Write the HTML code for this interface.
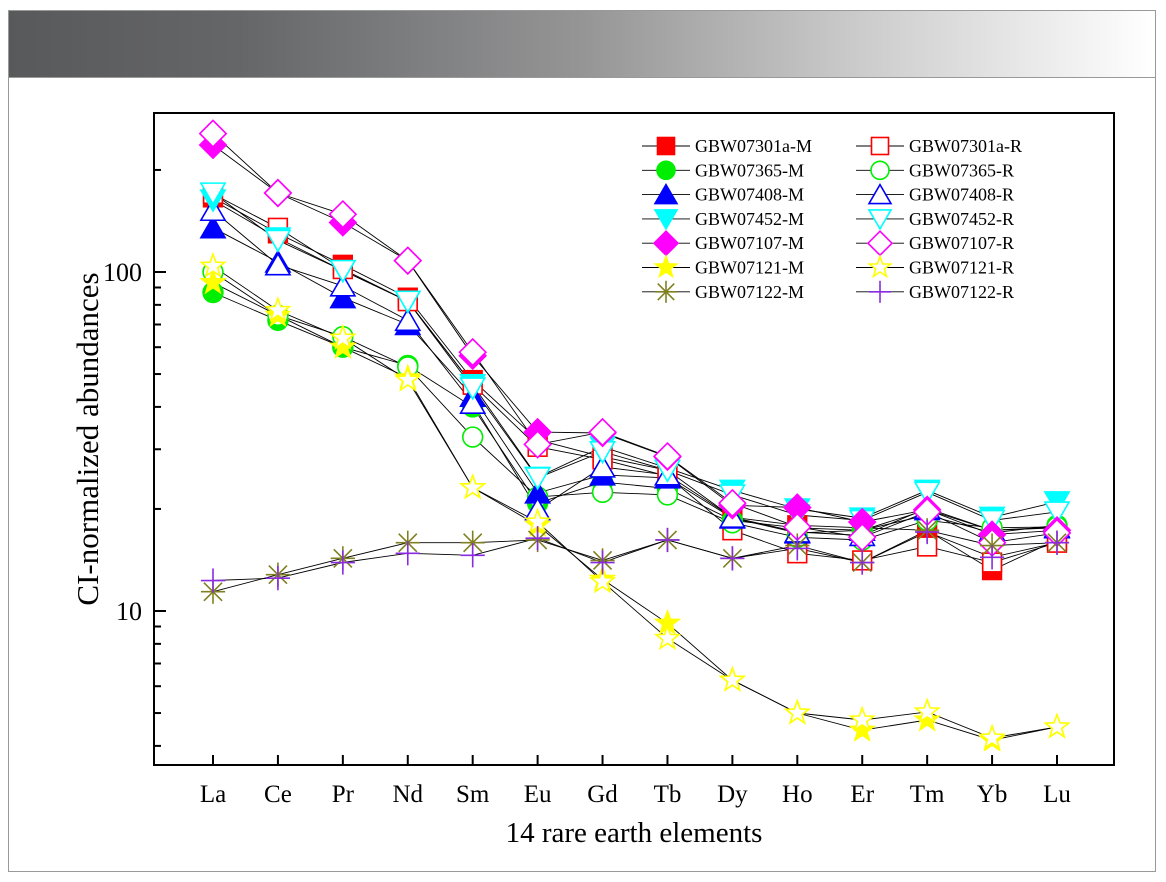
<!DOCTYPE html>
<html><head><meta charset="utf-8">
<style>
html,body{margin:0;padding:0;background:#fff;}
body{width:1166px;height:882px;overflow:hidden;position:relative;font-family:"Liberation Serif",serif;}
#frame{position:absolute;left:8px;top:10px;width:1148px;height:862px;border:1px solid #999;box-sizing:border-box;}
#header{position:absolute;left:9px;top:11px;width:1146px;height:66px;background:linear-gradient(to right,#58595b 0%,#656668 20%,#959596 50%,#cdcdcd 75%,#fff 100%);border-bottom:1px solid #999;}
svg{position:absolute;left:0;top:0;}
svg text{font-family:"Liberation Serif",serif;}
</style></head>
<body>
<div id="frame"></div>
<div id="header"></div>
<svg id="chart" width="1166" height="882" font-family="Liberation Serif, serif"></svg>
<script>
const categories=["La","Ce","Pr","Nd","Sm","Eu","Gd","Tb","Dy","Ho","Er","Tm","Yb","Lu"];
const yTickLabels=["10","100"];
const yTickValues=[10,100];
const s301M=[166,130,105,84,48,32,28.5,26,18.9,17.9,17.6,17.3,13.2,16.2];
const s301R=[170,135,102,82,46.5,30.5,28,25,17.3,14.8,14.1,15.5,13.9,15.9];
const s365M=[87,72,60,53,40,20.8,24,23,18.5,17.6,17.3,19.2,17,17.9];
const s365R=[100,74.5,64.5,52.5,32.6,21.7,22.4,22,18.2,16.5,16.2,18.5,17.6,17.7];
const s408M=[135,107,84,70,43,22.3,25.2,24.7,18.8,17,17.3,19.9,17.3,17.7];
const s408R=[152,105,91,72,41,19.9,26.6,25.2,18.9,17.1,16.7,20.1,17.3,17.6];
const s452M=[163,126,101,82,46.5,24.8,30.5,26.4,22.7,20,18.8,22.7,18.9,21];
const s452R=[171,124,101,82,45.5,24.7,29.5,26,22,19.2,18.5,22.4,18.5,19.6];
const s107M=[237,171,140,108,56.6,33.7,33.5,28.5,20.5,20.2,18.3,19.9,16.8,17.3];
const s107R=[256,171,148,108,58,31,33.7,28.6,20.8,17.7,16.5,19.6,15.9,17];
const s121M=[93,74.5,60,48.7,23.1,17.9,12.4,9.2,6.25,5,4.45,4.77,4.16,4.55];
const s121R=[104,77,63.8,48,23.1,18.3,12.2,8.3,6.25,5,4.77,5.04,4.22,4.55];
const s122M=[11.4,12.8,14.3,15.9,15.9,16.2,14.1,16.2,14.3,15.6,13.9,17.3,15.6,15.9];
const s122R=[12.3,12.5,13.9,14.8,14.6,16.4,13.9,16.2,14.3,15.3,13.9,17.1,14.4,15.9];

const series=[
 {name:"GBW07301a-M",data:s301M,m:"square",c:"#ff0000",f:true},
 {name:"GBW07301a-R",data:s301R,m:"square",c:"#ff0000",f:false},
 {name:"GBW07365-M",data:s365M,m:"circle",c:"#00ee00",f:true},
 {name:"GBW07365-R",data:s365R,m:"circle",c:"#00ee00",f:false},
 {name:"GBW07408-M",data:s408M,m:"up",c:"#0000ff",f:true},
 {name:"GBW07408-R",data:s408R,m:"up",c:"#0000ff",f:false},
 {name:"GBW07452-M",data:s452M,m:"down",c:"#00ffff",f:true},
 {name:"GBW07452-R",data:s452R,m:"down",c:"#00ffff",f:false},
 {name:"GBW07107-M",data:s107M,m:"diamond",c:"#ff00ff",f:true},
 {name:"GBW07107-R",data:s107R,m:"diamond",c:"#ff00ff",f:false},
 {name:"GBW07121-M",data:s121M,m:"star",c:"#ffff00",f:true},
 {name:"GBW07121-R",data:s121R,m:"star",c:"#ffff00",f:false},
 {name:"GBW07122-M",data:s122M,m:"asterisk",c:"#808020",f:false},
 {name:"GBW07122-R",data:s122R,m:"plus",c:"#8a2be2",f:false}
];

const L=154,R=1114,T=113,B=765;
const x0=213,dx=(1057-213)/13;
const xs=i=>x0+i*dx;
const ys=v=>611-339*Math.log10(v/10);
const NS="http://www.w3.org/2000/svg";
const svg=document.getElementById('chart');
function mk(tag,attrs,parent){const e=document.createElementNS(NS,tag);for(const k in attrs)e.setAttribute(k,attrs[k]);(parent||svg).appendChild(e);return e;}

const box=mk('rect',{x:L,y:T,width:R-L,height:B-T,fill:'none',stroke:'#000','stroke-width':2});



const yt=mk('g',{});


for(let d=1;d<1000;d*=10){for(let k=1;k<10;k++){const v=d*k;const y=ys(v);if(y<T||y>B)continue;const maj=(k===1);mk('line',{x1:L,x2:L+(maj?12:7),y1:y,y2:y,stroke:'#000','stroke-width':2},yt);}}
yTickValues.forEach((v,i)=>{const t=mk('text',{x:L-12,y:ys(v)+9,'text-anchor':'end','font-size':26,fill:'#000'});t.textContent=yTickLabels[i];

});

categories.forEach((c,i)=>{mk('line',{x1:xs(i),x2:xs(i),y1:B,y2:B-10,stroke:'#000','stroke-width':2});
const t=mk('text',{x:xs(i),y:802,'text-anchor':'middle','font-size':25,fill:'#000'});t.textContent=c;

});

const xt=mk('text',{x:634,y:842,'text-anchor':'middle','font-size':29,fill:'#000'});xt.textContent="14 rare earth elements";


const ytt=mk('text',{x:0,y:0,'text-anchor':'middle','font-size':31,fill:'#000',transform:'translate(98,439) rotate(-90)'});ytt.textContent="CI-normalized abundances";



function marker(type,x,y,c,f,parent,s){
 s=s||11;const fill=f?c:'#fff';const sw=1.6;
 if(type==='square')return mk('rect',{x:x-s*0.85,y:y-s*0.85,width:s*1.7,height:s*1.7,fill:fill,stroke:c,'stroke-width':sw},parent);
 if(type==='circle')return mk('circle',{cx:x,cy:y,r:s*0.9,fill:fill,stroke:c,'stroke-width':sw},parent);
 if(type==='up')return mk('polygon',{points:`${x},${y-s} ${x+s*1.1},${y+s*0.9} ${x-s*1.1},${y+s*0.9}`,fill:fill,stroke:c,'stroke-width':sw},parent);
 if(type==='down')return mk('polygon',{points:`${x},${y+s} ${x+s*1.1},${y-s*0.9} ${x-s*1.1},${y-s*0.9}`,fill:fill,stroke:c,'stroke-width':sw},parent);
 if(type==='diamond')return mk('polygon',{points:`${x},${y-s*1.2} ${x+s*1.2},${y} ${x},${y+s*1.2} ${x-s*1.2},${y}`,fill:fill,stroke:c,'stroke-width':sw},parent);
 if(type==='star'){let p=[];for(let k=0;k<10;k++){const r=k%2?s*0.45:s*1.1;const a=-Math.PI/2+k*Math.PI/5;p.push((x+r*Math.cos(a)).toFixed(1)+','+(y+r*Math.sin(a)).toFixed(1));}
  return mk('polygon',{points:p.join(' '),fill:fill,stroke:c,'stroke-width':sw},parent);}
 if(type==='asterisk'){const g=mk('g',{stroke:c,'stroke-width':1.6},parent);const r=s*1.1;
  mk('line',{x1:x-r,y1:y,x2:x+r,y2:y},g);mk('line',{x1:x,y1:y-r,x2:x,y2:y+r},g);
  mk('line',{x1:x-r*0.75,y1:y-r*0.75,x2:x+r*0.75,y2:y+r*0.75},g);mk('line',{x1:x-r*0.75,y1:y+r*0.75,x2:x+r*0.75,y2:y-r*0.75},g);return g;}
 if(type==='plus'){const g=mk('g',{stroke:c,'stroke-width':1.6},parent);const r=s*1.1;
  mk('line',{x1:x-r,y1:y,x2:x+r,y2:y},g);mk('line',{x1:x,y1:y-r,x2:x,y2:y+r},g);return g;}
}

series.forEach(sr=>{const pts=sr.data.map((v,i)=>xs(i).toFixed(1)+','+ys(v).toFixed(1)).join(' ');
 const pl=mk('polyline',{points:pts,fill:'none',stroke:'#000','stroke-width':0.9});
 
 });
series.forEach(sr=>{const g=mk('g',{});
 
 
 sr.data.forEach((v,i)=>marker(sr.m,xs(i),ys(v),sr.c,sr.f,g));});

const lg=mk('g',{});


series.forEach((sr,i)=>{const col=i%2,row=Math.floor(i/2);const mx=col?880:666;const y=146+row*24.3;
 const e=mk('g',{},lg);
 
 
 mk('line',{x1:mx-24,x2:mx+24,y1:y,y2:y,stroke:'#000','stroke-width':0.9},e);
 marker(sr.m,mx,y,sr.c,sr.f,e,10);
 const t=mk('text',{x:mx+29,y:y+6,'font-size':18,fill:'#000'},e);t.textContent=sr.name;});
</script>
</body></html>
